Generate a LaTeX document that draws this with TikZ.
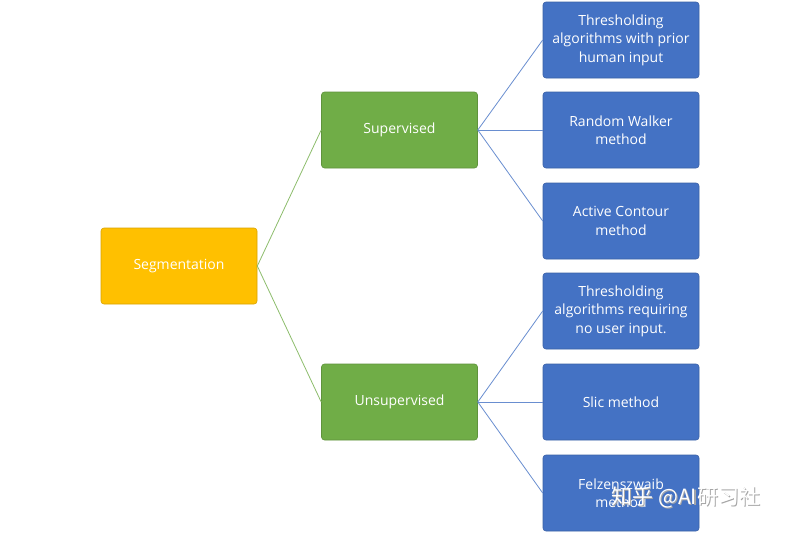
\documentclass[tikz,border=0pt]{standalone}
\usepackage{fontspec}
\setmainfont{Open Sans}
\newfontfamily\cjk{Noto Sans CJK SC}
\definecolor{segY}{HTML}{FFC000}
\definecolor{grn}{HTML}{70AD47}
\definecolor{blu}{HTML}{4472C4}
\begin{document}
\begin{tikzpicture}[x=1pt,y=-1pt,
  box/.style={minimum width=156pt,minimum height=76pt,rounded corners=3pt,text=white,align=center,font=\fontsize{14}{18.5}\selectfont,inner sep=2pt,draw=#1!85!black,line width=0.6pt,fill=#1},
  gline/.style={draw=grn!80!white,line width=0.8pt},
  bline/.style={draw=blu!80!white,line width=0.8pt}]
\useasboundingbox[fill=white] (0,0) rectangle (800,533);
\node[box=segY] (seg) at (179,266) {Segmentation};
\node[box=grn] (sup) at (399.5,130) {Supervised};
\node[box=grn] (uns) at (399.5,402) {Unsupervised};
\node[box=blu] (b1) at (621,40) {Thresholding\\algorithms with prior\\human input};
\node[box=blu] (b2) at (621,130) {Random Walker\\method};
\node[box=blu] (b3) at (621,221) {Active Contour\\method};
\node[box=blu] (b4) at (621,311) {Thresholding\\algorithms requiring\\no user input.};
\node[box=blu] (b5) at (621,402) {Slic method};
\node[box=blu] (b6) at (621,493) {Felzenszwaib\\method};
\draw[gline] (seg.east) -- (sup.west);
\draw[gline] (seg.east) -- (uns.west);
\foreach \b in {b1,b2,b3} \draw[bline] (sup.east) -- (\b.west);
\foreach \b in {b4,b5,b6} \draw[bline] (uns.east) -- (\b.west);
\node[text=black!35,font=\cjk\fontsize{21}{24}\selectfont,anchor=west] (wms) at (609.2,498.2) {知乎 @AI研习社};
\node[text=white,font=\cjk\fontsize{21}{24}\selectfont,anchor=west] (wm) at (608,497) {知乎 @AI研习社};
\end{tikzpicture}
\end{document}
